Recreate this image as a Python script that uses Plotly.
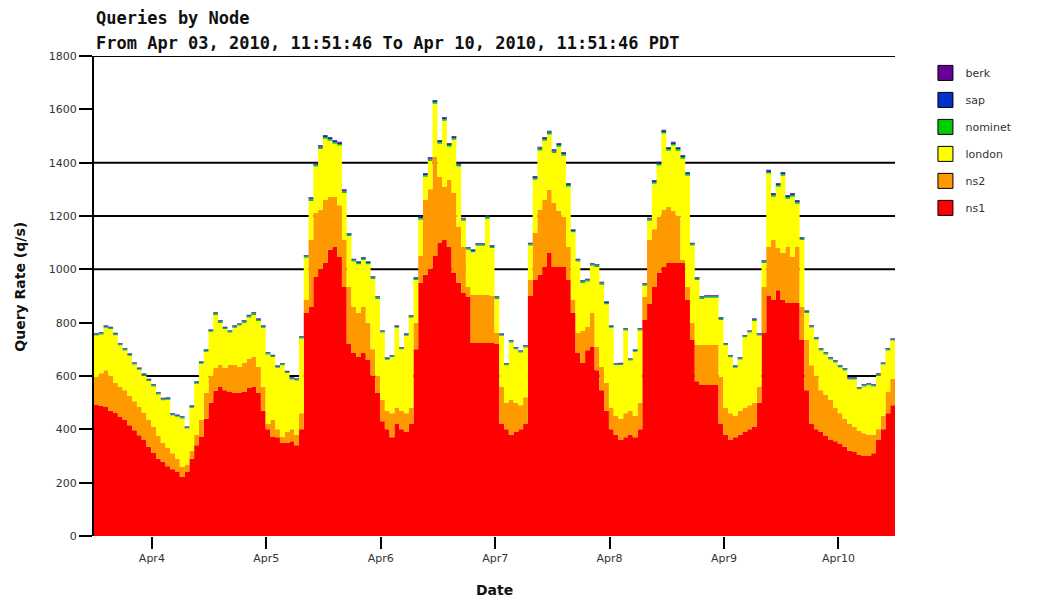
import pandas as pd
import plotly.graph_objects as go

# ---------------- data (hourly samples, q/s) ----------------
start = "2010-04-03 11:51:46"
end = "2010-04-10 11:51:46"

total = [761, 765, 790, 785, 762, 724, 705, 685, 652, 632, 610, 590,
         570, 540, 518, 520, 461, 456, 450, 412, 490, 580, 655, 700,
         775, 840, 810, 785, 772, 790, 798, 810, 830, 840, 817, 790,
         690, 680, 640, 649, 620, 596, 592, 750, 1054, 1270, 1400, 1465,
         1504, 1496, 1485, 1478, 1300, 1136, 1040, 1030, 1046, 1030, 975, 900,
         772, 670, 679, 790, 709, 760, 829, 971, 1200, 1361, 1420, 1635,
         1485, 1571, 1474, 1500, 1400, 1193, 1084, 1075, 1099, 1099, 1204, 1091,
         900, 760, 649, 735, 709, 697, 716, 1100, 1350, 1460, 1496, 1520,
         1450, 1474, 1440, 1324, 1150, 1040, 960, 965, 1024, 1020, 953, 880,
         790, 649, 650, 780, 667, 700, 780, 949, 1193, 1335, 1403, 1523,
         1459, 1478, 1459, 1429, 1365, 1100, 971, 900, 904, 904, 904, 821,
         724, 679, 640, 671, 754, 772, 817, 761, 1035, 1373, 1286, 1324,
         1365, 1279, 1286, 1260, 1121, 847, 791, 746, 705, 690, 671, 660,
         641, 630, 596, 596, 559, 570, 574, 570, 611, 652, 705, 742]
ns1_plus_ns2 = [596, 610, 622, 600, 574, 560, 547, 525, 505, 485, 461, 435,
                409, 375, 349, 330, 310, 290, 259, 266, 320, 380, 435, 536,
                600, 630, 641, 630, 641, 641, 634, 650, 665, 671, 634, 560,
                420, 435, 400, 371, 390, 400, 380, 460, 885, 1110, 1211, 1223,
                1260, 1271, 1271, 1240, 1110, 934, 859, 836, 859, 800, 700, 600,
                510, 470, 460, 480, 470, 460, 480, 800, 1050, 1260, 1300, 1421,
                1346, 1309, 1335, 1286, 1159, 1084, 934, 905, 905, 905, 905, 900,
                761, 560, 500, 510, 500, 490, 520, 960, 1136, 1223, 1260, 1298,
                1249, 1220, 1196, 1084, 885, 761, 770, 784, 836, 709, 634, 574,
                480, 450, 440, 460, 470, 450, 500, 896, 1110, 1150, 1196, 1223,
                1234, 1220, 1200, 1035, 934, 800, 716, 716, 716, 716, 716, 596,
                480, 460, 450, 470, 480, 490, 500, 560, 934, 1084, 1110, 1080,
                1061, 1084, 1046, 1084, 859, 735, 640, 600, 547, 530, 510, 480,
                460, 440, 420, 410, 395, 385, 380, 380, 400, 450, 540, 590]
ns1 = [491, 488, 484, 470, 461, 448, 435, 415, 397, 378, 360, 335,
       311, 290, 278, 262, 250, 240, 221, 240, 290, 340, 371, 440,
       500, 545, 559, 547, 540, 536, 538, 540, 555, 559, 536, 470,
       400, 371, 370, 349, 350, 355, 340, 400, 836, 859, 971, 1000,
       1024, 1073, 1084, 1046, 934, 720, 686, 671, 686, 660, 600, 536,
       430, 400, 370, 420, 400, 390, 420, 700, 950, 980, 1000, 1050,
       1099, 1110, 1084, 986, 950, 911, 896, 724, 724, 724, 724, 724,
       720, 420, 400, 380, 390, 400, 420, 900, 960, 980, 1009, 1061,
       1009, 1009, 1009, 960, 836, 686, 649, 697, 709, 622, 547, 470,
       400, 380, 360, 370, 380, 370, 400, 810, 870, 934, 986, 1009,
       1024, 1024, 1024, 1024, 885, 735, 580, 566, 566, 566, 566, 420,
       380, 360, 370, 380, 390, 400, 410, 500, 761, 900, 885, 922,
       885, 874, 874, 874, 735, 547, 420, 400, 390, 375, 360, 355,
       345, 335, 320, 315, 305, 300, 300, 310, 360, 400, 460, 490]
nominet = [4, 4, 4, 4, 4, 4, 4, 4, 4, 4, 4, 4,
           4, 4, 4, 4, 4, 4, 4, 4, 4, 4, 4, 4,
           4, 5, 5, 4, 4, 4, 4, 5, 5, 5, 5, 4,
           4, 4, 4, 4, 4, 4, 4, 4, 5, 6, 6, 6,
           6, 6, 6, 6, 6, 5, 5, 5, 5, 5, 5, 5,
           4, 4, 4, 4, 4, 4, 5, 5, 6, 6, 6, 6,
           6, 6, 6, 6, 6, 5, 5, 5, 5, 5, 6, 5,
           5, 4, 4, 4, 4, 4, 4, 5, 6, 6, 6, 6,
           6, 6, 6, 6, 5, 5, 5, 5, 5, 5, 5, 5,
           4, 4, 4, 4, 4, 4, 4, 5, 5, 6, 6, 6,
           6, 6, 6, 6, 6, 5, 5, 5, 5, 5, 5, 5,
           4, 4, 4, 4, 4, 4, 5, 4, 5, 6, 6, 6,
           6, 6, 6, 6, 5, 5, 4, 4, 4, 4, 4, 4,
           4, 4, 4, 4, 4, 4, 4, 4, 4, 4, 4, 4]
sap = [3, 3, 3, 3, 3, 3, 3, 3, 3, 3, 3, 3,
       3, 3, 3, 3, 3, 3, 3, 3, 3, 3, 3, 3,
       3, 4, 4, 3, 3, 3, 3, 4, 4, 4, 4, 3,
       3, 3, 3, 3, 3, 3, 3, 3, 4, 5, 5, 5,
       5, 5, 5, 5, 5, 4, 4, 4, 4, 4, 4, 4,
       3, 3, 3, 3, 3, 3, 4, 4, 5, 5, 5, 5,
       5, 5, 5, 5, 5, 4, 4, 4, 4, 4, 5, 4,
       4, 3, 3, 3, 3, 3, 3, 4, 5, 5, 5, 5,
       5, 5, 5, 5, 4, 4, 4, 4, 4, 4, 4, 4,
       3, 3, 3, 3, 3, 3, 3, 4, 4, 5, 5, 5,
       5, 5, 5, 5, 5, 4, 4, 4, 4, 4, 4, 4,
       3, 3, 3, 3, 3, 3, 4, 3, 4, 5, 5, 5,
       5, 5, 5, 5, 4, 4, 3, 3, 3, 3, 3, 3,
       3, 3, 3, 3, 3, 3, 3, 3, 3, 3, 3, 3]
berk = [2, 2, 2, 2, 2, 2, 2, 2, 2, 2, 2, 2,
        2, 2, 2, 2, 2, 2, 2, 2, 2, 2, 2, 2,
        2, 2, 2, 2, 2, 2, 2, 2, 2, 2, 2, 2,
        2, 2, 2, 2, 2, 2, 2, 2, 2, 3, 3, 3,
        3, 3, 3, 3, 3, 2, 2, 2, 2, 2, 2, 2,
        2, 2, 2, 2, 2, 2, 2, 2, 3, 3, 3, 3,
        3, 3, 3, 3, 3, 2, 2, 2, 2, 2, 3, 2,
        2, 2, 2, 2, 2, 2, 2, 2, 3, 3, 3, 3,
        3, 3, 3, 3, 2, 2, 2, 2, 2, 2, 2, 2,
        2, 2, 2, 2, 2, 2, 2, 2, 2, 3, 3, 3,
        3, 3, 3, 3, 3, 2, 2, 2, 2, 2, 2, 2,
        2, 2, 2, 2, 2, 2, 2, 2, 2, 3, 3, 3,
        3, 3, 3, 3, 2, 2, 2, 2, 2, 2, 2, 2,
        2, 2, 2, 2, 2, 2, 2, 2, 2, 2, 2, 2]

tick_dates = ["2010-04-04", "2010-04-05", "2010-04-06", "2010-04-07",
              "2010-04-08", "2010-04-09", "2010-04-10"]
tick_text = ["Apr4", "Apr5", "Apr6", "Apr7", "Apr8", "Apr9", "Apr10"]
y_ticks = [0, 200, 400, 600, 800, 1000, 1200, 1400, 1600, 1800]
grid_levels = [600, 1000, 1200, 1400, 1800]

series_names = ["ns1", "ns2", "london", "nominet", "sap", "berk"]
series_colors = {"ns1": "#ff0000", "ns2": "#ff9900", "london": "#ffff00",
                 "nominet": "#00cc00", "sap": "#0033cc", "berk": "#660099"}

# ---------------- derived series ----------------
n = len(total)
small = [nominet[i] + sap[i] + berk[i] for i in range(n)]
ns2 = [ns1_plus_ns2[i] - ns1[i] for i in range(n)]
london = [total[i] - ns1_plus_ns2[i] - small[i] for i in range(n)]
values = {"ns1": ns1, "ns2": ns2, "london": london,
          "nominet": nominet, "sap": sap, "berk": berk}

times = list(pd.date_range(start=start, periods=n, freq="h")) + [pd.Timestamp(end)]

fig = go.Figure()
for name in series_names:
    v = values[name]
    fig.add_trace(go.Scatter(
        x=times, y=v + [v[-1]], name=name, mode="lines",
        line=dict(width=0, shape="hv", color=series_colors[name]),
        fillcolor=series_colors[name], stackgroup="one",
        showlegend=False, hoverinfo="x+y+name"))

# legend swatches (top to bottom: berk ... ns1)
for name in reversed(series_names):
    fig.add_trace(go.Scatter(
        x=[None], y=[None], mode="markers", name=name,
        marker=dict(symbol="square", size=15, color=series_colors[name],
                    line=dict(color="#000000", width=1)),
        legendgroup=name, showlegend=True))

shapes = []
for lv in grid_levels:
    shapes.append(dict(type="line", xref="paper", yref="y", x0=0, x1=1, y0=lv, y1=lv,
                       line=dict(color="#000000", width=2),
                       layer="below" if lv < 1800 else "above"))

# page body adds an 8px offset, so the figure is sized to fit the window
fig.update_layout(
    width=1048, height=595,
    margin=dict(l=86, r=161, t=48, b=67),
    paper_bgcolor="white", plot_bgcolor="white",
    font=dict(family="DejaVu Sans", size=11, color="#333333"),
    shapes=shapes,
    legend=dict(x=1.038, y=0.995, xanchor="left", yanchor="top",
                font=dict(family="DejaVu Sans", size=11, color="#333333"),
                tracegroupgap=8, itemwidth=30, bgcolor="rgba(0,0,0,0)"),
    xaxis=dict(type="date", range=[start, end], showgrid=False, zeroline=False,
               showline=False, tickvals=tick_dates, ticktext=tick_text,
               ticks="outside", ticklen=12, tickwidth=2, tickcolor="#000000",
               tickfont=dict(family="DejaVu Sans", size=11, color="#333333")),
    yaxis=dict(range=[0, 1800], showgrid=False, zeroline=False,
               showline=True, linecolor="#000000", linewidth=2,
               tickvals=y_ticks, ticks="outside", ticklen=13, tickwidth=2,
               tickcolor="#000000",
               tickfont=dict(family="DejaVu Sans", size=11, color="#333333")),
    annotations=[
        dict(text="<b>Queries by Node</b>", xref="paper", yref="paper",
             x=0, y=1.079, xanchor="left", yanchor="middle", showarrow=False,
             font=dict(family="DejaVu Sans Mono", size=17, color="#111111")),
        dict(text="<b>From Apr 03, 2010, 11:51:46 To Apr 10, 2010, 11:51:46 PDT</b>",
             xref="paper", yref="paper", x=0, y=1.027, xanchor="left",
             yanchor="middle", showarrow=False,
             font=dict(family="DejaVu Sans Mono", size=17, color="#111111")),
        dict(text="<b>Query Rate (q/s)</b>", xref="paper", yref="paper",
             x=-0.092, y=0.52, xanchor="center", yanchor="middle",
             textangle=-90, showarrow=False,
             font=dict(family="DejaVu Sans", size=14, color="#111111")),
        dict(text="<b>Date</b>", xref="paper", yref="paper",
             x=0.5, y=-0.113, xanchor="center", yanchor="middle",
             showarrow=False,
             font=dict(family="DejaVu Sans", size=14, color="#111111")),
    ],
)

fig.write_html("out.html")
